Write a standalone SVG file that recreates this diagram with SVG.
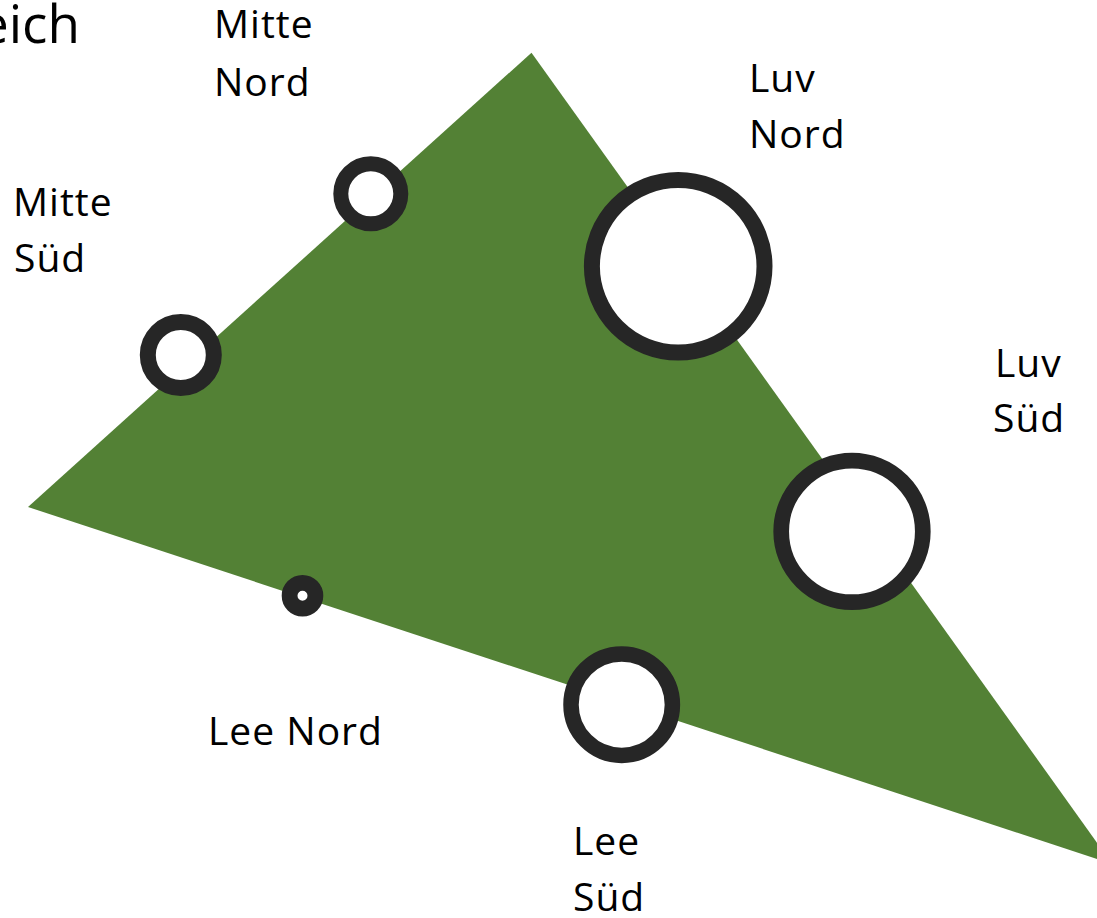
<svg xmlns="http://www.w3.org/2000/svg" width="1097" height="918" viewBox="0 0 1097 918">
<style>
.lbl{font-family:"Open Sans","Liberation Sans",sans-serif;font-size:39px;letter-spacing:1px;fill:#000}
.ring{fill:#fff;stroke:#262626}
</style>
<rect width="1097" height="918" fill="#fff"/>
<g id="area">
<polygon points="531.5,52.7 28,507 1112.3,864" fill="#538135"/>
</g>
<g id="title"><text x="80" y="43" text-anchor="end" style="font-family:'Open Sans','Liberation Sans',sans-serif;font-size:53px;fill:#000">eich</text></g>
<g id="connectors"></g>
<g id="mitte-nord">
<circle class="ring" cx="370.8" cy="193.8" r="30" stroke-width="15"/>
<text class="lbl" x="214" y="38">Mitte</text><text class="lbl" x="214" y="96">Nord</text>
</g>
<g id="mitte-sued">
<circle class="ring" cx="180.8" cy="355" r="33" stroke-width="16"/>
<text class="lbl" x="13" y="216">Mitte</text><text class="lbl" x="14" y="272">Süd</text>
</g>
<g id="luv-nord">
<circle class="ring" cx="678.2" cy="266.2" r="86.3" stroke-width="16"/>
<text class="lbl" x="749" y="92">Luv</text><text class="lbl" x="749" y="148">Nord</text>
</g>
<g id="luv-sued">
<circle class="ring" cx="852" cy="531.4" r="70.8" stroke-width="15.7"/>
<text class="lbl" x="995" y="377">Luv</text><text class="lbl" x="993" y="432">Süd</text>
</g>
<g id="lee-nord">
<circle class="ring" cx="302.5" cy="595.8" r="12.9" stroke-width="15.8"/>
<text class="lbl" x="208" y="745">Lee Nord</text>
</g>
<g id="lee-sued">
<circle class="ring" cx="621.7" cy="704.7" r="50.7" stroke-width="15.5"/>
<text class="lbl" x="573" y="855">Lee</text><text class="lbl" x="573" y="911">Süd</text>
</g>
</svg>
